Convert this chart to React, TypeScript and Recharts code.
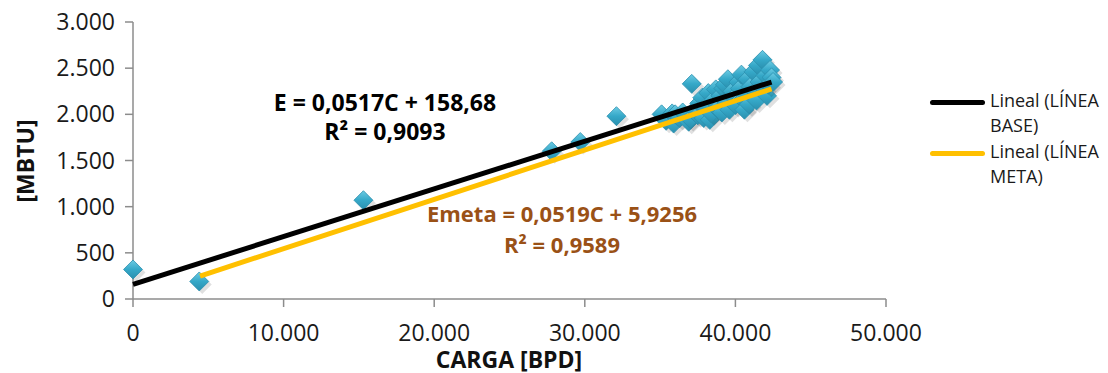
import React from "react";
import { ScatterChart, Scatter, XAxis, YAxis } from "recharts";

// CARGA [BPD] (x) and energy [MBTU] (y) measured points
const cargaBPD = [
  0, 4400, 15300, 27800, 29700, 32100,
  35100, 35400, 35800, 35900, 36000, 36300, 36500, 36900, 37000, 37100,
  37300, 37500, 37600, 37800, 37900, 38000, 38200, 38300, 38400, 38500,
  38700, 38800, 39000, 39100, 39200, 39300, 39400, 39500, 39600, 39800,
  39900, 40000, 40200, 40300, 40400, 40500, 40600, 40700, 40800, 40900,
  41000, 41200, 41300, 41400, 41500, 41600, 41800, 41900, 42000, 42100,
  42200, 42300, 42400, 42500,
];
const energiaMBTU = [
  320, 190, 1070, 1600, 1700, 1980,
  2000, 1930, 2010, 1900, 2000, 1960, 2020, 1920, 1950, 2330,
  2050, 1990, 2120, 2180, 1960, 2080, 2230, 1940, 2010, 2150,
  2270, 2060, 2200, 2020, 2280, 2320, 2120, 2380, 2050, 2250,
  2180, 2100, 2350, 2280, 2430, 2160, 2050, 2220, 2380, 2110,
  2300, 2460, 2250, 2150, 2530, 2350, 2590, 2280, 2420, 2200,
  2320, 2480, 2400, 2350,
];

// Trend line end points
const baseLineX = [0, 42400];
const baseLineY = [159, 2350];
const metaLineX = [4450, 42400];
const metaLineY = [249, 2275];

const xTicks = [0, 10000, 20000, 30000, 40000, 50000];
const yTicks = [0, 500, 1000, 1500, 2000, 2500, 3000];

const legendItems = ["Lineal (LÍNEA BASE)", "Lineal (LÍNEA META)"];
const eqBase = ["E = 0,0517C + 158,68", "R² = 0,9093"];
const eqMeta = ["Emeta = 0,0519C + 5,9256", "R² = 0,9589"];

const points = cargaBPD.map((x, i) => ({ x, y: energiaMBTU[i] }));
const baseLine = baseLineX.map((x, i) => ({ x, y: baseLineY[i] }));
const metaLine = metaLineX.map((x, i) => ({ x, y: metaLineY[i] }));

const FONT = "'Open Sans', sans-serif";
const fmt = (v: number) => String(v).replace(/\B(?=(\d{3})+(?!\d))/g, ".");

const Diamond = (props: any) => {
  const { cx, cy } = props;
  if (cx == null || cy == null) return <g />;
  const r = 9.5;
  const pts = `${cx},${cy - r} ${cx + r},${cy} ${cx},${cy + r} ${cx - r},${cy}`;
  const sh = `${cx + 3},${cy - r + 3} ${cx + r + 3},${cy + 3} ${cx + 3},${cy + r + 3} ${cx - r + 3},${cy + 3}`;
  return (
    <g>
      <polygon points={sh} fill="#000" opacity={0.12} />
      <polygon points={pts} fill="url(#diamGrad)" stroke="#2b8fae" strokeWidth={0.8} />
    </g>
  );
};

const NoShape = () => <g />;

export default function App() {
  const W = 1100;
  const SHIFT = 6;
  const H = 365 + SHIFT;
  return (
    <div style={{ position: "relative", width: W, height: H, marginTop: -SHIFT, fontFamily: FONT }}>
      <ScatterChart
        width={W}
        height={H}
        margin={{ top: 14 + SHIFT, right: 222, bottom: 14, left: 0 }}
      >
        <defs>
          <linearGradient id="diamGrad" x1="0" y1="0" x2="0" y2="1">
            <stop offset="0%" stopColor="#6ccbe3" />
            <stop offset="50%" stopColor="#35a8c8" />
            <stop offset="100%" stopColor="#2a8fae" />
          </linearGradient>
        </defs>
        <XAxis
          type="number"
          dataKey="x"
          domain={[0, 50000]}
          ticks={xTicks}
          tickFormatter={fmt}
          height={60}
          tickSize={8}
          tickMargin={18}
          axisLine={{ stroke: "#8c8c8c", strokeWidth: 1.5 }}
          tickLine={{ stroke: "#8c8c8c", strokeWidth: 1.5 }}
          tick={{ fill: "#1a1a1a", fontSize: 23, fontFamily: FONT }}
        />
        <YAxis
          type="number"
          dataKey="y"
          domain={[0, 3000]}
          ticks={yTicks}
          tickFormatter={fmt}
          width={125}
          tickSize={8}
          tickMargin={10}
          axisLine={{ stroke: "#8c8c8c", strokeWidth: 1.5 }}
          tickLine={{ stroke: "#8c8c8c", strokeWidth: 1.5 }}
          tick={{ fill: "#1a1a1a", fontSize: 23, fontFamily: FONT }}
        />
        <Scatter data={points} shape={Diamond} isAnimationActive={false} />
        <Scatter
          data={baseLine}
          line={{ stroke: "#000000", strokeWidth: 5 }}
          lineType="joint"
          shape={NoShape}
          isAnimationActive={false}
        />
        <Scatter
          data={metaLine}
          line={{ stroke: "#ffc000", strokeWidth: 5 }}
          lineType="joint"
          shape={NoShape}
          isAnimationActive={false}
        />
      </ScatterChart>

      {/* axis titles */}
      <div
        style={{
          position: "absolute", left: 501, top: 351 + SHIFT, transform: "translate(-50%,-50%)",
          fontWeight: 700, fontSize: 23, color: "#111", whiteSpace: "nowrap", lineHeight: 1,
        }}
      >
        CARGA [BPD]
      </div>
      <div
        style={{
          position: "absolute", left: 17, top: 153 + SHIFT, transform: "translate(-50%,-50%) rotate(-90deg)",
          fontWeight: 700, fontSize: 23, color: "#111", whiteSpace: "nowrap", lineHeight: 1,
        }}
      >
        [MBTU]
      </div>

      {/* equations */}
      {eqBase.map((t, i) => (
        <div
          key={t}
          style={{
            position: "absolute", left: 377, top: 94 + SHIFT + i * 29, transform: "translate(-50%,-50%)",
            fontWeight: 700, fontSize: 23, color: "#000", whiteSpace: "nowrap", lineHeight: 1,
          }}
        >
          {t}
        </div>
      ))}
      {eqMeta.map((t, i) => (
        <div
          key={t}
          style={{
            position: "absolute", left: 554, top: 205 + SHIFT + i * 31, transform: "translate(-50%,-50%)",
            fontWeight: 700, fontSize: 22, color: "#9a5116", whiteSpace: "nowrap", lineHeight: 1,
          }}
        >
          {t}
        </div>
      ))}

      {/* legend */}
      {legendItems.map((t, i) => {
        const words = t.split(" ");
        const l1 = words.slice(0, 2).join(" ");
        const l2 = words.slice(2).join(" ");
        const top = 80 + SHIFT + i * 51;
        return (
          <div key={t} style={{ position: "absolute", left: 922, top }}>
            <div
              style={{
                position: "absolute", left: 0, top: 12, width: 55, height: 5, borderRadius: 3,
                background: i === 0 ? "#000" : "#ffc000",
              }}
            />
            <div
              style={{
                position: "absolute", left: 60, top: 0, fontSize: 18, lineHeight: "25px",
                color: "#1a1a1a", whiteSpace: "nowrap",
              }}
            >
              <div>{l1}</div>
              <div>{l2}</div>
            </div>
          </div>
        );
      })}
    </div>
  );
}
